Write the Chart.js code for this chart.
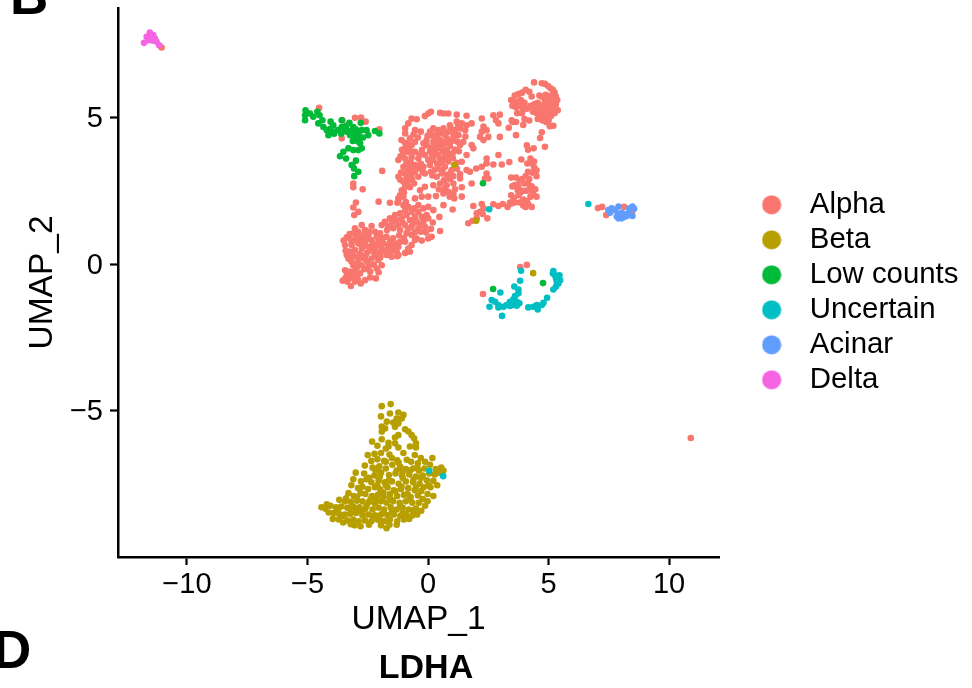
<!DOCTYPE html>
<html>
<head>
<meta charset="utf-8">
<style>
html, body { margin: 0; padding: 0; background: #fff; }
#wrap { width: 972px; height: 688px; }
</style>
<script src="https://cdn.jsdelivr.net/npm/chart.js@4/dist/chart.umd.min.js"></script>
</head>
<body>
<div id="wrap"><canvas id="canvas" width="972" height="688"></canvas></div>
<script>
const xTicks = [-10, -5, 0, 5, 10];
const yTicks = [-5, 0, 5];
const names = ["Alpha", "Beta", "Low counts", "Uncertain", "Acinar", "Delta"];
const colors = ["#F8766D", "#B79F00", "#00BA38", "#00BFC4", "#619CFF", "#F564E3"];

const alpha = [
[4.4,6.2],[4.72,6.17],[4.85,6.15],[4.98,6.08],[5.08,6.0],[5.18,5.95],[5.25,5.85],[5.3,5.72],[5.36,5.6],[5.3,5.45],[5.38,5.25],[5.25,5.15],[5.15,5.35],[5.0,5.45],[4.85,5.55],[4.75,5.7],
[3.6,5.75],[3.75,5.8],[3.9,5.85],[4.05,5.95],[4.2,5.88],[4.3,5.72],[3.45,5.6],[3.55,5.5],[3.7,5.55],[3.85,5.6],[4.0,5.5],[3.5,5.4],[3.65,5.35],[3.8,5.4],[3.95,5.3],[3.7,5.15],[3.9,5.15],[4.1,5.3],[4.25,5.4],[4.4,5.45],[4.55,5.5],[4.7,5.4],[4.85,5.35],[4.95,5.2],[4.6,5.3],[4.5,5.15],[4.35,5.2],[4.65,5.1],[4.8,5.05],[4.95,5.0],[5.1,5.05],[4.55,4.95],[4.75,4.9],[4.9,4.85],[5.05,4.7],[5.2,4.72],[4.2,4.9],[3.95,4.75],[3.65,4.85],[3.35,4.65],[3.5,4.85],[3.65,4.4],[4.0,4.95],
[5.1,5.75],[5.2,5.55],[5.1,5.25],[4.62,5.75],[4.88,5.78],[5.0,5.62],[4.78,5.22],[5.0,4.9],[4.7,5.0],[4.42,5.3],
[4.72,4.5],[4.65,4.3],[4.85,4.0],[4.1,4.05],[4.15,3.9],[4.38,3.95],[4.25,3.6],[4.25,3.45],[4.4,3.5],[4.4,3.3],[4.5,3.2],[4.5,3.0],[4.15,3.15],[4.05,3.0],[3.9,2.9],[3.8,2.85],[3.45,2.95],[3.5,2.65],[3.6,2.7],[3.75,2.65],[3.95,2.5],[4.15,2.75],[4.3,2.65],[4.45,2.55],[4.5,2.3],[4.35,2.4],[4.25,2.3],[4.1,2.5],[3.95,2.2],[3.75,2.35],[3.55,2.25],[3.4,2.1],[3.45,2.35],[3.3,1.95],[3.6,2.1],[3.8,2.1],[3.95,2.0],[4.05,1.95],[4.15,2.05],[4.3,1.95],[4.1,2.15],[3.85,2.45],[4.2,2.9],[3.65,2.95],[4.0,2.75],[4.32,3.12],[3.72,2.52],[4.2,2.55],
[2.23,4.97],[2.3,4.69],[2.71,5.08],[2.98,5.1],[2.82,4.91],[3.47,4.91],[2.92,4.8],[2.23,4.52],[2.43,4.57],[2.16,4.34],[2.5,4.34],[2.98,4.34],[2.3,4.23],[2.43,3.6],[2.92,3.72],[2.0,3.26],[2.23,3.32],[2.43,3.43],[2.71,3.4],[3.06,3.4],[3.37,3.48],[3.87,3.57],[4.12,3.43],[1.6,3.21],[1.33,3.07],[1.74,3.15],[2.43,3.09],[2.36,2.92],[2.5,2.92],[1.81,2.75],
[1.88,1.98],[2.23,2.05],[2.3,1.9],[2.16,1.78],[2.02,1.73],[2.27,1.71],[2.02,1.56],[1.85,1.48],[1.67,1.39],[2.46,1.56],[2.71,2.04],[2.92,1.98],[3.1,2.05],[3.47,2.07],
[-0.82,4.8],[-0.68,4.97],[-0.47,4.94],[-0.13,5.05],[0.01,5.14],[0.12,5.2],[0.5,5.16],[0.64,5.14],[0.84,5.14],[1.19,5.1],[1.6,5.06],[-0.95,4.63],[-0.95,4.46],[-0.54,4.57],[-0.3,4.52],
[0.22,4.63],[0.43,4.57],[0.64,4.63],[0.91,4.74],[1.19,4.86],[1.4,4.8],[1.6,4.74],[1.81,4.8],[0.08,4.52],[0.29,4.4],[0.57,4.46],[0.84,4.52],[1.12,4.57],[1.33,4.63],[1.54,4.57],[1.26,4.4],[1.05,4.34],[0.77,4.29],[0.5,4.23],[0.22,4.17],[-0.06,4.23],[-0.19,4.12],
[-1.1,4.23],[-0.95,4.14],[-0.75,4.29],[-0.54,4.17],[-0.68,4.06],[-0.95,3.95],[-0.82,3.83],[-1.02,3.78],[-0.54,3.83],[-1.23,3.55],[-0.95,3.6],[-0.68,3.64],[-0.4,3.6],[-0.13,3.72],[0.01,3.55],[0.29,3.78],[0.43,3.95],[0.64,4.06],[0.91,4.03],[1.12,3.91],[1.33,4.06],[1.46,4.17],[1.81,4.06],[1.88,3.95],[1.6,3.72],[1.4,3.49],[1.19,3.46],[0.91,3.72],[0.7,3.68],[0.5,3.6],[0.22,3.55],
[0.36,4.3],[0.72,4.42],[0.98,4.2],[0.15,3.98],[0.33,4.05],[0.78,3.88],[1.03,3.62],[0.62,3.85],[0.16,3.7],[-0.3,3.42],[-0.72,3.48],[-0.86,3.18],[0.28,3.22],[0.57,3.45],[0.85,3.5],[0.12,3.15],[-0.55,3.15],
[0.95,4.62],[1.05,4.5],[1.25,4.72],[0.7,4.15],[0.45,4.1],[0.08,3.85],[-0.05,4.05],[0.25,3.9],[-0.25,3.9],[-0.8,4.1],[-0.42,4.32],[-0.9,3.42],[1.28,3.85],[0.6,3.2],
[-0.6,4.42],[-0.82,4.02],[-1.08,3.9],[-1.14,3.68],[-0.7,3.85],[-0.35,3.75],[0.42,3.72],[0.86,4.15],[1.2,4.18],[1.55,4.35],[0.4,4.45],[0.18,4.38],[-0.02,4.38],[1.02,3.78],[0.75,3.58],[0.38,3.42],[0.18,3.02],[-0.22,3.15],[-0.62,3.22],[-1.12,3.12],[-1.15,2.88],[1.2,3.25],[0.92,3.1],
[-1.02,3.32],[-0.75,3.32],[-0.54,3.38],[-0.4,3.26],[-0.19,3.32],[0.08,3.38],[0.43,3.26],[0.7,3.32],[0.98,3.21],[-1.23,2.98],[-0.95,3.09],[-0.68,3.04],[-0.4,2.98],[-0.13,3.09],[0.36,2.98],[0.57,3.09],[0.77,3.04],[1.05,3.0],[1.33,2.92],
[-1.02,2.81],[-0.82,2.87],[-0.58,2.75],[-0.95,2.64],[-0.75,2.62],[-1.09,2.52],[0.22,2.69],[0.5,2.75],[0.77,2.69],[1.05,2.75],[1.4,2.62],[-0.13,2.64],[-0.33,2.52],[-0.88,2.95],[-0.66,2.88],[-0.86,2.75],[0.66,2.86],[0.9,2.9],[1.12,2.55],
[-1.16,2.35],[-1.23,2.24],[-1.02,2.3],[-0.54,2.24],[-0.26,2.3],[0.01,2.3],[0.33,2.32],[0.7,2.58],[0.64,2.41],[0.84,2.47],[1.05,2.41],[1.4,2.3],[1.09,2.24],[-1.0,2.45],[-0.92,2.12],[0.9,2.3],[0.45,2.55],
[-1.9,3.18],[-3.1,2.75],[-3.1,2.62],[-2.71,2.55],[-2.99,2.1],[-3.1,1.93],[-2.89,1.78],[-3.06,1.67],[-2.05,2.13],[-1.58,2.09],[-1.27,2.09],
[-1.23,2.18],[-1.02,2.01],[-0.82,1.95],[-0.95,1.84],[-1.16,1.73],[-1.37,1.67],[-1.58,1.56],[-1.79,1.44],[-1.51,1.39],[-1.3,1.5],[-1.09,1.56],[-0.89,1.67],[-0.68,1.78],[-0.4,2.01],[-0.19,1.9],[0.01,1.95],[0.22,1.84],[0.47,1.61],[1.02,1.86],[0.64,2.01],[-0.4,1.78],[-0.54,1.61],[-0.26,1.61],[-0.06,1.67],[-0.75,1.5],[-0.47,1.44],[-0.19,1.44],[0.01,1.56],[-0.95,1.33],[-0.68,1.27],[-0.4,1.22],[-0.13,1.27],[0.5,1.13],[0.15,0.93],[0.01,0.87],[-0.26,0.8],[-0.47,0.87],[-0.68,0.99],[-0.89,1.05],[-1.16,1.16],[-1.44,1.22],[-1.65,1.27],[-1.92,1.33],
[-0.3,1.1],[-0.55,1.08],[-0.2,1.6],[-0.62,1.38],[-0.82,1.2],[-1.05,1.4],[-1.25,1.32],[-1.48,1.5],[-1.7,1.15],[-1.2,0.98],[-1.0,0.88],[-0.08,1.08],[0.12,1.2],[-0.3,1.35],[-0.58,1.9],[0.2,1.42],
[-0.95,0.76],[-0.68,0.65],[-0.54,0.82],[-0.82,0.53],[-0.95,0.38],[-0.75,0.42],[-1.16,0.76],[-1.23,0.59],[-1.3,0.42],[-1.23,0.31],
[-3.03,1.22],[-2.75,1.33],[-2.34,1.3],[-3.37,0.91],[-3.1,1.05],[-2.89,1.1],[-2.61,1.16],[-2.2,1.1],[-1.99,1.05],[-1.72,0.93],[-2.47,0.99],[-2.75,0.93],[-3.03,0.82],[-3.44,0.65],[-3.17,0.65],[-2.89,0.7],[-2.61,0.76],[-2.34,0.82],[-2.06,0.82],[-1.85,0.7],[-1.58,0.76],[-1.44,0.59],[-1.65,0.53],[-1.92,0.53],[-2.2,0.59],[-2.47,0.59],[-2.75,0.53],[-3.03,0.48],[-3.37,0.31],[-3.1,0.27],[-2.82,0.34],[-2.54,0.38],[-2.27,0.42],[-1.99,0.36],[-1.72,0.31],[-1.51,0.25],[-1.27,0.27],[-3.17,0.08],[-2.89,0.14],[-2.61,0.16],[-2.34,0.19],[-2.06,0.14],[-3.1,-0.04],[-2.75,-0.04],[-2.47,-0.09],[-2.13,-0.15],[-1.92,-0.04],[-2.4,-0.26],
[-2.98,0.98],[-2.52,0.86],[-2.12,0.95],[-2.68,0.62],[-2.4,0.5],[-2.08,0.67],[-1.78,0.44],[-2.95,0.25],[-2.5,0.07],[-2.2,0.28],[-2.78,0.22],[-1.62,0.65],[-3.25,0.43],[-2.9,0.03],[-2.65,1.0],[-2.3,0.68],[-1.98,0.22],[-1.52,0.45],[-2.6,0.28],[-3.2,0.82],[-2.25,-0.02],
[-2.45,1.1],[-2.8,0.82],[-3.25,1.02],[-3.5,0.8],[-2.18,0.48],[-1.88,0.88],[-1.45,0.88],[-1.32,0.7],[-3.3,0.18],[-3.42,0.45],[-2.65,-0.18],[-2.05,-0.28],[-2.95,-0.12],
[-3.44,-0.21],[-3.24,-0.26],[-3.03,-0.23],[-2.82,-0.32],[-3.37,-0.38],[-3.17,-0.43],[-2.96,-0.46],[-3.54,-0.57],[-3.35,-0.6],[-3.2,-0.75],[-3.03,-0.6],[-2.79,-0.66],[-2.61,-0.55],[-2.4,-0.46],[-2.16,-0.49],[-3.28,-0.5],[-3.1,-0.35],[-2.9,-0.55],[-3.45,-0.5],
[10.9,-5.94],[3.82,-0.1],[4.1,-0.03],[2.28,-1.02],[7.05,1.91],[7.22,1.95],[7.39,1.67],[8.13,1.95],[8.46,1.81],[8.46,1.74],[-11.05,7.39],
[-4.52,5.33],[-3.55,4.91],[-3.03,4.99],[-2.78,5.0],[-2.59,4.86],[-2.02,4.6],[-3.58,4.29],[-3.12,3.38]
];

const beta = [
[1.09,3.38],[2.0,1.48],[4.36,-0.31],
[-1.92,-4.85],[-1.55,-4.78],[-1.58,-5.1],[-1.23,-5.07],[-1.02,-5.15],[-1.09,-5.27],[-1.3,-5.27],[-1.71,-5.38],[-1.44,-5.41],[-1.23,-5.44],[-1.37,-5.55],[-1.92,-5.55],[-1.78,-5.61],[-1.92,-5.72],[-0.95,-5.64],[-0.81,-5.72],[-1.23,-5.84],[-1.37,-5.92],[-0.68,-5.84],[-0.58,-5.95],[-1.92,-5.98],[-2.32,-6.06],[-1.64,-6.1],[-1.37,-6.12],[-0.5,-6.12],[-1.64,-6.23],[-1.23,-6.26],[-0.75,-6.23],[-0.5,-6.26],
[-2.5,-6.52],[-2.22,-6.48],[-1.95,-6.45],[-1.6,-6.5],[-1.02,-6.45],[-0.55,-6.52],[-0.3,-6.62],[0.18,-6.62],[-2.35,-6.72],[-2.1,-6.66],[-1.82,-6.72],[-1.5,-6.62],[-1.28,-6.7],[-0.88,-6.68],[-0.7,-6.75],[-0.42,-6.8],[-0.12,-6.75],[0.08,-6.85],[0.32,-7.0],[0.55,-6.95],[0.64,-7.05],
[-2.62,-6.88],[-2.3,-6.95],[-2.02,-6.9],[-1.75,-6.98],[-1.48,-6.85],[-1.15,-6.92],[-0.92,-7.0],[-0.62,-6.98],[-0.38,-7.05],[-0.15,-6.98],[0.05,-7.15],[0.28,-7.18],[0.46,-7.12],
[-2.65,-7.15],[-2.22,-7.22],[-1.95,-7.12],[-1.62,-7.2],[-1.35,-7.15],[-1.08,-7.22],[-0.78,-7.18],[-0.5,-7.25],[-0.22,-7.22],[-0.05,-7.38],[0.22,-7.4],[0.38,-7.55],
[-3.1,-7.35],[-2.35,-7.45],[-2.05,-7.38],[-1.8,-7.45],[-1.5,-7.42],[-1.22,-7.5],[-0.92,-7.42],[-0.62,-7.45],[-0.35,-7.5],[-0.18,-7.62],[0.1,-7.62],
[-2.9,-7.65],[-2.72,-7.6],[-2.48,-7.68],[-2.2,-7.62],[-1.98,-7.7],[-1.68,-7.62],[-1.42,-7.72],[-1.12,-7.68],[-0.82,-7.65],[-0.55,-7.72],[-0.28,-7.75],[-0.02,-7.85],[0.22,-7.92],
[-3.3,-7.82],[-3.08,-7.92],[-2.6,-7.85],[-2.32,-7.92],[-2.08,-7.88],[-1.85,-7.95],[-1.58,-7.85],[-1.28,-7.92],[-1.0,-7.88],[-0.72,-7.95],[-0.42,-7.9],[-0.22,-8.02],[-0.02,-8.1],
[-3.68,-8.05],[-3.45,-8.1],[-3.2,-8.12],[-2.95,-8.08],[-2.72,-8.1],[-2.45,-8.12],[-2.2,-8.18],[-1.95,-8.1],[-1.72,-8.15],[-1.45,-8.1],[-1.18,-8.15],[-0.92,-8.1],[-0.65,-8.15],[-0.38,-8.15],[-0.12,-8.25],
[-4.05,-8.25],[-3.82,-8.3],[-3.6,-8.28],[-3.35,-8.32],[-3.1,-8.28],[-2.85,-8.3],[-2.6,-8.35],[-2.3,-8.38],[-2.05,-8.32],[-1.82,-8.38],[-1.55,-8.3],[-1.3,-8.38],[-1.05,-8.32],[-0.8,-8.38],[-0.5,-8.35],[-0.28,-8.42],
[-4.42,-8.3],[-4.25,-8.35],[-4.12,-8.48],[-3.92,-8.5],[-3.7,-8.52],[-3.45,-8.55],[-3.22,-8.52],[-2.98,-8.5],[-2.72,-8.58],[-2.48,-8.55],[-2.2,-8.58],[-1.95,-8.55],[-1.68,-8.58],[-1.42,-8.55],[-1.15,-8.6],[-0.92,-8.55],[-0.65,-8.58],[-0.45,-8.55],
[-3.95,-8.7],[-3.7,-8.72],[-3.52,-8.82],[-3.35,-8.75],[-3.1,-8.72],[-2.88,-8.78],[-2.62,-8.75],[-2.35,-8.78],[-2.1,-8.72],[-1.82,-8.78],[-1.58,-8.72],[-1.28,-8.78],[-1.0,-8.72],[-0.78,-8.7],
[-3.05,-8.92],[-2.8,-8.95],[-2.45,-8.9],[-1.95,-8.92],[-1.72,-9.02],[-1.6,-8.9],[-1.3,-8.9],[-2.15,-8.05],[-1.75,-7.55],[-1.1,-7.6],[-0.75,-8.0],[-1.5,-8.45],[-2.55,-8.25],[-3.0,-8.4],[-1.3,-7.05],[-2.45,-7.3],[-0.5,-7.6],
[-1.35,-7.75],[-1.6,-7.95],[-2.0,-7.25],[-1.85,-7.8],[-1.05,-7.3],[-0.3,-7.3],[-2.3,-8.6],[-3.25,-8.35],[-1.05,-8.5],[-1.85,-8.5],[-2.75,-8.45],[-3.55,-8.6],
[-2.55,-7.35],[-2.78,-7.42],[-3.18,-7.55],[-3.0,-7.12],[-2.8,-7.82],[-2.1,-7.55],[-1.62,-7.38],[-1.22,-6.78],[-1.75,-6.75],[-2.18,-7.05],[-0.75,-7.05],[-0.45,-6.95],[-0.85,-7.85],[-1.52,-8.05],[-2.38,-8.02],[-2.95,-7.95],[-3.4,-8.0],[-2.0,-8.75],[-1.15,-8.25],[-0.6,-8.4],[-3.75,-8.4],[-4.2,-8.2],[-3.2,-8.88],[-2.1,-6.98],[-1.05,-7.08],[-0.6,-7.35],[0.02,-7.55],[-1.95,-5.2],[-2.1,-6.2],[-1.75,-6.3]
];

const lowCounts = [
[-5.08,5.25],[-5.1,5.08],[-5.1,4.91],[-4.9,5.14],[-4.76,5.03],[-4.59,5.2],[-4.5,5.08],[-4.38,4.91],[-4.55,4.8],[-4.34,4.68],[-4.2,4.57],[-4.13,4.4],[-3.99,4.52],[-4.04,4.86],[-3.93,4.74],[-3.75,4.57],[-3.58,4.68],[-3.58,4.91],[-3.37,4.52],[-3.26,4.82],[-3.1,4.68],[-3.23,4.4],[-3.03,4.34],[-2.89,4.46],[-2.75,4.57],[-2.55,4.57],[-2.48,4.4],[-2.2,4.54],[-2.02,4.46],[-2.79,4.82],[-2.82,4.12],
[-2.75,3.95],[-2.89,3.89],[-3.1,3.89],[-3.3,3.95],[-3.51,3.83],[-3.65,3.68],[-3.4,3.6],[-2.99,3.53],[-3.17,3.38],[-3.07,3.26],[-2.89,3.15],[-3.06,3.0],
[-3.45,4.62],[-3.3,4.55],[-3.15,4.5],[-3.0,4.6],[-2.92,4.28],[-3.12,4.2],[-2.9,4.18],[-3.4,4.72],[-2.7,4.32],[-3.6,4.45],[-4.05,4.62],[-3.9,4.45],
[2.28,2.76],[2.7,-0.85],[4.77,-0.65]
];

const uncertain = [
[6.65,2.05],[2.54,1.87],[3.86,-0.23],[3.82,-0.57],[3.0,-0.97],[3.58,-0.77],[3.75,-0.87],[3.75,-1.0],[3.61,-1.09],[3.54,-1.2],[3.68,-1.29],[3.79,-1.34],[3.4,-1.29],[3.26,-1.4],[3.4,-1.43],[3.13,-1.46],[2.92,-1.48],[2.92,-1.4],[2.78,-1.29],[2.64,-1.23],[2.55,-1.46],[3.54,-1.4],[3.68,-1.42],[3.07,-1.77],
[4.16,-1.48],[4.37,-1.46],[4.51,-1.4],[4.55,-1.55],[4.72,-1.4],[4.79,-1.32],[4.94,-1.15],[5.2,-0.87],[5.31,-0.77],[5.41,-0.66],[5.48,-0.55],[5.31,-0.49],[5.45,-0.38],[5.27,-0.38],[5.2,-0.24],[5.18,-0.32],[5.34,-0.6],
[0.05,-7.06],[0.63,-7.24]
];

const acinar = [
[7.48,1.84],[7.62,1.9],[7.55,1.75],[7.9,1.96],[7.76,1.84],[7.9,1.71],[7.9,1.56],[8.04,1.56],[8.17,1.62],[8.31,1.73],[8.24,1.64],[8.04,1.75],[8.48,1.96],[8.55,1.89],[8.48,1.64],[8.35,1.9],[7.83,1.62],[8.1,1.71]
];

const delta = [
[-11.54,7.82],[-11.67,7.76],[-11.4,7.82],[-11.33,7.7],[-11.46,7.64],[-11.6,7.64],[-11.78,7.55],[-11.26,7.59],[-11.15,7.47],[-11.54,7.9],[-11.46,7.73],[-11.6,7.72],[-11.38,7.62]
];

const seriesPoints = [alpha, beta, lowCounts, uncertain, acinar, delta];

// circle image for the legend, a plain circle style would turn into an ellipse
function legendDot(color) {
  const c = document.createElement("canvas");
  c.width = 20;
  c.height = 20;
  const g = c.getContext("2d");
  g.fillStyle = color;
  g.beginPath();
  g.arc(10, 10, 9.6, 0, Math.PI * 2);
  g.fill();
  return c;
}

const fontName = '"Liberation Sans", Helvetica, Arial, sans-serif';
const fmtMinus = (v) => String(v).replace("-", "\u2212");

const panelText = {
  id: "panelText",
  beforeLayout(chart) {
    const legend = chart.legend;
    if (legend && !legend._wrapped) {
      const fit = legend.fit;
      legend.fit = function () {
        fit.call(this);
        this.width = 253;
      };
      legend._wrapped = true;
    }
  },
  afterLayout(chart) {
    chart.legend.left = 742.5;
    chart.legend.top = 184.5;
  },
  afterDraw(chart) {
    const ctx = chart.ctx;
    ctx.save();
    ctx.fillStyle = "#000";
    ctx.textBaseline = "alphabetic";
    ctx.font = "bold 53px " + fontName;
    ctx.textAlign = "left";
    ctx.fillText("B", 10, 14);
    ctx.fillText("D", -7, 668);
    ctx.font = "bold 34px " + fontName;
    ctx.textAlign = "center";
    ctx.fillText("LDHA", 426, 678);
    ctx.restore();
  }
};

new Chart(document.getElementById("canvas").getContext("2d"), {
  type: "scatter",
  data: {
    datasets: names.map((name, i) => ({
      label: name,
      data: seriesPoints[i].map((p) => ({ x: p[0], y: p[1] })),
      backgroundColor: colors[i],
      borderWidth: 0,
      pointRadius: 3.3,
      pointHoverRadius: 3.3,
      order: names.length - i
    }))
  },
  options: {
    responsive: false,
    animation: false,
    layout: { padding: { top: 8, left: 0, right: 0, bottom: 0 } },
    plugins: {
      tooltip: { enabled: false },
      legend: {
        position: "right",
        align: "start",
        labels: {
          color: "#000",
          font: { family: fontName, size: 29.4 },
          usePointStyle: true,
          pointStyleWidth: 47,
          padding: 5.6,
          generateLabels: () =>
            names.map((name, i) => ({
              text: name,
              fillStyle: colors[i],
              strokeStyle: colors[i],
              lineWidth: 0,
              pointStyle: legendDot(colors[i]),
              datasetIndex: i
            }))
        }
      }
    },
    scales: {
      x: {
        type: "linear",
        min: -12.86,
        max: 12.07,
        afterFit: (s) => { s.height = 131; s.paddingLeft = 0; s.paddingRight = 0; },
        afterBuildTicks: (s) => { s.ticks = xTicks.map((v) => ({ value: v })); },
        border: { color: "#000", width: 2.5 },
        grid: { drawOnChartArea: false, color: "#000", tickColor: "#000", tickLength: 8, tickWidth: 2.2 },
        ticks: {
          color: "#000",
          padding: 3,
          maxRotation: 0,
          autoSkip: false,
          font: { family: fontName, size: 29 },
          callback: fmtMinus
        },
        title: {
          display: true,
          text: "UMAP_1",
          color: "#000",
          font: { family: fontName, size: 33.5 },
          padding: { top: 0, bottom: 48 }
        }
      },
      y: {
        type: "linear",
        min: -10,
        max: 8.74,
        afterFit: (s) => { s.width = 118; s.paddingTop = 0; s.paddingBottom = 0; },
        afterBuildTicks: (s) => { s.ticks = yTicks.map((v) => ({ value: v })); },
        border: { color: "#000", width: 2.5 },
        grid: { drawOnChartArea: false, color: "#000", tickColor: "#000", tickLength: 8, tickWidth: 2.2 },
        ticks: {
          color: "#000",
          padding: 7,
          labelOffset: 1.5,
          autoSkip: false,
          font: { family: fontName, size: 29 },
          callback: fmtMinus
        },
        title: {
          display: true,
          text: "UMAP_2",
          color: "#000",
          font: { family: fontName, size: 33.5 },
          padding: { top: 23, bottom: 0 }
        }
      }
    }
  },
  plugins: [panelText]
});
</script>
</body>
</html>
